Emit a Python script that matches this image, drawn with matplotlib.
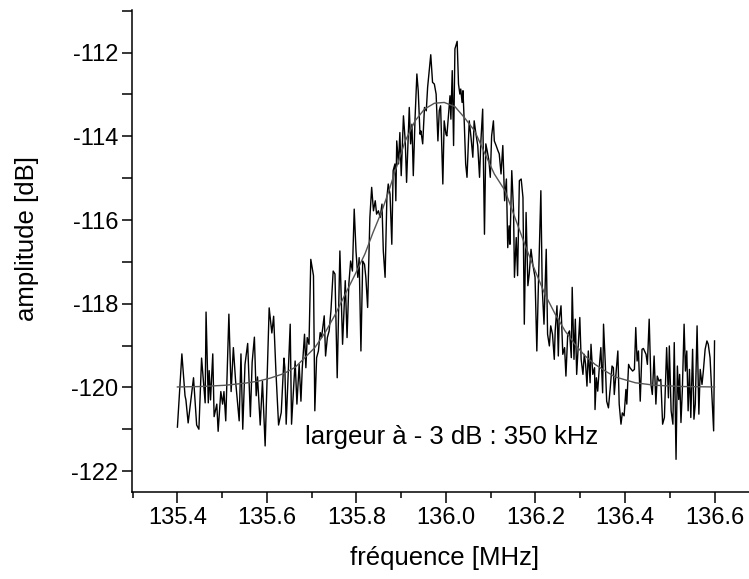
import matplotlib
matplotlib.use('Agg')
import matplotlib.pyplot as plt
from matplotlib.ticker import MultipleLocator, FormatStrFormatter

plt.rcParams['font.family'] = ['Liberation Sans', 'DejaVu Sans']
plt.rcParams['axes.unicode_minus'] = False

# measured spectrum (MHz, dB)
freq = [
    135.400, 135.410, 135.417, 135.419, 135.424, 135.436, 135.443, 135.448, 135.454, 135.462,
    135.464, 135.469, 135.471, 135.474, 135.479, 135.482, 135.488, 135.491, 135.497, 135.501,
    135.504, 135.508, 135.515, 135.520, 135.525, 135.530, 135.538, 135.542, 135.546, 135.551,
    135.557, 135.563, 135.567, 135.572, 135.576, 135.579, 135.585, 135.590, 135.596, 135.600,
    135.605, 135.611, 135.615, 135.620, 135.626, 135.632, 135.638,
    135.640, 135.643, 135.652, 135.655, 135.663, 135.667, 135.672, 135.676, 135.679, 135.684,
    135.687, 135.690, 135.694, 135.698, 135.704, 135.707, 135.711, 135.715, 135.719, 135.722,
    135.728, 135.731, 135.735, 135.739, 135.743, 135.748, 135.752, 135.757, 135.763, 135.769,
    135.775, 135.779, 135.783, 135.787, 135.791, 135.795, 135.799, 135.803, 135.806, 135.810,
    135.814, 135.818, 135.821, 135.825, 135.830, 135.834, 135.838, 135.842, 135.845, 135.849,
    135.853, 135.857, 135.860, 135.864, 135.868, 135.871, 135.875, 135.879, 135.882, 135.886,
    135.888, 135.890, 135.894, 135.897, 135.900, 135.905, 135.909, 135.912, 135.918, 135.921,
    135.924, 135.927, 135.931, 135.935, 135.938, 135.942, 135.944, 135.948, 135.952, 135.956,
    135.959, 135.966, 135.970, 135.974, 135.978, 135.982, 135.985, 135.988, 135.993, 135.996,
    136.000, 136.002, 136.005, 136.009, 136.011, 136.014, 136.017, 136.020, 136.025, 136.028,
    136.031, 136.033, 136.036, 136.038, 136.041, 136.044, 136.047, 136.049, 136.052, 136.056,
    136.060, 136.063, 136.067, 136.071, 136.075, 136.078, 136.082, 136.086, 136.089, 136.092,
    136.096, 136.099, 136.102, 136.106, 136.108, 136.112, 136.116, 136.119, 136.123, 136.127,
    136.131,
    136.135, 136.138, 136.141, 136.143, 136.147, 136.151, 136.153, 136.157, 136.160, 136.164,
    136.168, 136.172, 136.175, 136.179, 136.183, 136.186, 136.190, 136.194, 136.199, 136.203,
    136.206, 136.212, 136.215, 136.219, 136.224, 136.227, 136.231, 136.234, 136.238, 136.242,
    136.244, 136.248, 136.251, 136.253, 136.257, 136.261, 136.265, 136.268, 136.272, 136.276,
    136.280, 136.282, 136.286, 136.289, 136.292, 136.296, 136.299, 136.302, 136.306, 136.309,
    136.312, 136.315, 136.318, 136.322, 136.324, 136.328, 136.332, 136.333, 136.336, 136.339,
    136.343, 136.346, 136.350, 136.352, 136.356, 136.359, 136.363, 136.367, 136.371, 136.374,
    136.376,
    136.384, 136.387, 136.391, 136.394, 136.398, 136.402, 136.404, 136.408, 136.411, 136.417,
    136.421, 136.424, 136.427, 136.430, 136.434, 136.438, 136.441, 136.447, 136.450, 136.454,
    136.458, 136.461, 136.465, 136.469, 136.472, 136.476, 136.480, 136.484, 136.488, 136.493,
    136.497, 136.499, 136.503, 136.507, 136.510, 136.514, 136.517, 136.520, 136.522, 136.525,
    136.528, 136.532, 136.535, 136.538, 136.541, 136.544, 136.547, 136.551, 136.554, 136.557,
    136.561, 136.565, 136.568, 136.572, 136.575, 136.579, 136.583, 136.586, 136.590, 136.595,
    136.598, 136.600,
]
amp = [
    -120.95, -119.20, -120.20, -120.30, -120.85, -119.77, -120.90, -121.00, -119.30, -120.37,
    -118.20, -120.37, -119.60, -120.30, -119.20, -120.70, -120.40, -121.05, -120.10, -120.40,
    -120.10, -120.80, -118.25, -120.10, -119.05, -119.85, -120.80, -119.20, -121.00, -119.45,
    -118.95, -120.70, -119.40, -118.80, -120.20, -119.75, -120.90, -119.85, -121.40, -119.90,
    -118.10, -118.70, -118.30, -119.60, -120.90, -120.60, -119.30,
    -119.53, -120.88, -118.49, -120.88, -119.37, -120.40, -119.45, -120.33, -119.53, -118.73,
    -119.53, -118.81, -118.97, -116.94, -117.33, -120.56, -119.29, -119.13, -118.69, -118.81,
    -118.29, -119.25, -118.81, -118.65, -118.17, -117.22, -117.29, -119.77, -116.74, -118.97,
    -117.45, -118.81, -117.53, -116.98, -117.22, -115.74, -116.74, -117.37, -116.90, -119.13,
    -116.98, -117.06, -117.37, -118.09, -115.94, -115.22, -115.78, -115.54, -115.86, -115.78,
    -115.94, -115.62, -116.74, -117.37, -115.46, -115.14, -115.38, -116.58, -114.82, -114.66,
    -115.54, -114.11, -114.66, -113.91, -114.94, -113.51, -114.11, -115.10, -113.31, -114.18,
    -113.71, -114.94, -113.55, -112.51, -112.91, -113.95, -113.87, -114.18, -113.31, -113.39,
    -112.83, -112.05, -112.71, -112.75, -112.99, -114.11, -113.39, -113.27, -115.14, -113.63,
    -113.95, -113.99, -113.59, -113.03, -113.59, -112.43, -114.22, -111.91, -111.73, -112.75,
    -112.99, -112.87, -113.19, -112.91, -113.71, -114.66, -114.98, -114.46, -113.63, -114.03,
    -114.50, -113.63, -113.95, -114.22, -114.98, -114.11, -113.35, -116.34, -114.18, -114.34,
    -114.58, -114.98, -113.99, -113.63, -114.11, -114.22, -114.34, -114.42, -114.90, -114.22,
    -115.54,
    -115.02, -116.66, -116.14, -116.58, -114.82, -115.78, -117.37, -116.42, -117.33, -115.06,
    -115.02, -115.46, -118.49, -115.82, -117.57, -117.29, -116.70, -117.06, -117.37, -119.13,
    -117.77, -115.30, -117.61, -118.49, -116.70, -118.73, -119.01, -118.53, -118.73, -119.33,
    -118.65, -118.05, -119.25, -118.37, -118.05, -119.21, -119.05, -119.73, -118.73, -118.65,
    -119.29, -117.61, -119.33, -118.37, -119.69, -118.89, -118.33, -119.33, -119.69, -119.21,
    -119.45, -119.97, -119.13, -119.89, -118.97, -119.69, -119.53, -120.53, -119.77, -120.09,
    -119.45, -119.05, -120.13, -118.49, -119.45, -120.33, -120.49, -120.01, -119.49, -119.53,
    -120.17,
    -119.13, -120.40, -120.88, -120.61, -120.68, -120.05, -120.40, -119.45, -119.53, -119.61,
    -119.57, -118.57, -119.37, -119.13, -120.33, -119.09, -119.07, -119.21, -119.45, -118.37,
    -119.93, -120.17, -119.25, -120.40, -119.73, -119.85, -119.81, -120.88, -120.72, -119.05,
    -120.25, -119.01, -120.56, -120.88, -118.93, -121.72, -119.49, -120.29, -119.69, -120.84,
    -120.09, -118.49, -119.61, -119.13, -120.56, -119.57, -120.72, -119.09, -120.76, -120.40,
    -118.53, -120.64, -119.57, -119.93, -119.61, -119.09, -118.89, -118.97, -119.29, -120.40,
    -121.04, -118.89,
]

# fitted curve
fit_freq = [135.400, 135.451, 135.506, 135.551, 135.581, 135.607, 135.638, 135.663,
            135.681, 135.707, 135.730, 135.752, 135.775, 135.797, 135.819, 135.837,
            135.857, 135.871, 135.886, 135.909, 135.931, 135.952, 135.974, 135.996,
            136.020, 136.041, 136.064, 136.086, 136.108, 136.132, 136.154, 136.176,
            136.199, 136.221, 136.244, 136.266, 136.288, 136.311, 136.333, 136.356,
            136.378, 136.423, 136.467, 136.528, 136.600]
fit_db = [-119.99, -119.98, -119.95, -119.90, -119.85, -119.78, -119.67, -119.52,
          -119.33, -119.05, -118.69, -118.27, -117.77, -117.30, -116.81, -116.30,
          -115.78, -115.35, -114.85, -114.11, -113.63, -113.35, -113.21, -113.19,
          -113.29, -113.55, -113.87, -114.39, -114.90, -115.30, -115.94, -116.58,
          -117.21, -117.77, -118.25, -118.65, -118.97, -119.25, -119.45, -119.61,
          -119.75, -119.89, -119.95, -119.98, -119.99]

note = 'largeur à - 3 dB : 350 kHz'

fig = plt.figure(figsize=(7.49, 5.79), dpi=100)
ax = fig.add_axes([0.1762, 0.1503, 0.8238, 0.8325])

ax.plot(freq, amp, color='black', linewidth=1.0)
ax.plot(fit_freq, fit_db, color='#555555', linewidth=1.0)

ax.set_xlim(135.2985, 136.677)
ax.set_ylim(-122.5, -110.98)

ax.xaxis.set_major_locator(MultipleLocator(0.2))
ax.xaxis.set_minor_locator(MultipleLocator(0.1))
ax.xaxis.set_major_formatter(FormatStrFormatter('%.1f'))
ax.yaxis.set_major_locator(MultipleLocator(2))
ax.yaxis.set_minor_locator(MultipleLocator(1))

for side in ['top', 'right']:
    ax.spines[side].set_visible(False)
for side in ['left', 'bottom']:
    ax.spines[side].set_linewidth(1.1)

ax.tick_params(axis='both', which='both', direction='out', width=1.1, labelsize=17)
ax.tick_params(axis='x', which='major', length=8, pad=3)
ax.tick_params(axis='x', which='minor', length=4.5)
ax.tick_params(axis='y', which='both', length=7, pad=3)

ax.set_xlabel('fréquence [MHz]', fontsize=18.5)
ax.set_ylabel('amplitude [dB]', fontsize=18.5)
ax.xaxis.set_label_coords(0.507, -0.112)
ax.yaxis.set_label_coords(-0.15, 0.525)

ax.text(135.685, -121.19, note, fontsize=18.5, va='center', ha='left')

fig.savefig('out.png', dpi=100)
